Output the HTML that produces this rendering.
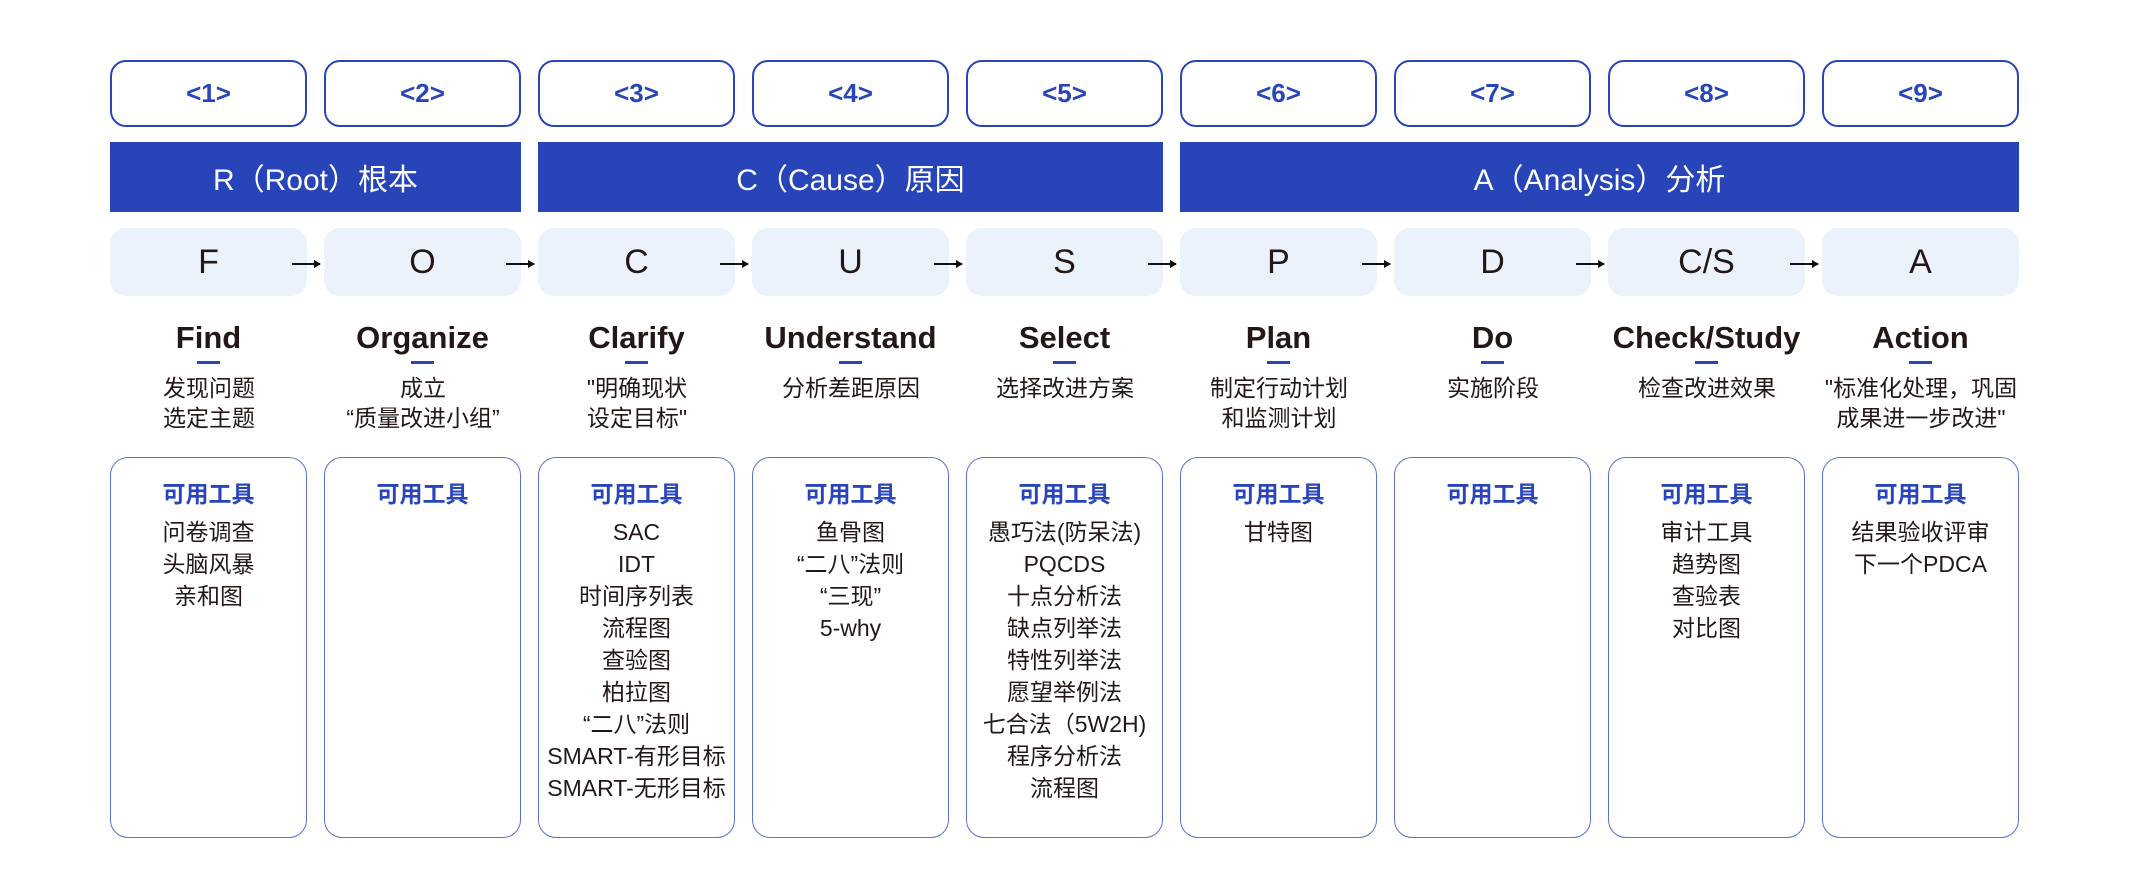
<!DOCTYPE html>
<html><head><meta charset="utf-8"><style>
*{margin:0;padding:0;box-sizing:border-box}
body{width:2137px;height:888px;background:#fff;position:relative;overflow:hidden;font-family:"Liberation Sans","Noto Sans CJK SC",sans-serif;color:#231815}
.a{position:absolute}
.top{top:60px;height:67px;width:197px;border:2px solid #2846BA;border-radius:16px;color:#2846BA;font-size:26px;font-weight:bold;display:flex;align-items:center;justify-content:center}
.band{top:142px;height:70px;background:#2745B8;color:#fff;font-size:30px;display:flex;align-items:center;justify-content:center}
.lt{top:228px;height:68px;width:197px;background:#EBF2FB;border-radius:16px;font-size:34px;display:flex;align-items:center;justify-content:center}
.ar{top:263px;height:1.5px;width:28px;background:#111}
.ar:after{content:"";position:absolute;right:-1px;top:-3.5px;border-left:7px solid #111;border-top:4px solid transparent;border-bottom:4px solid transparent}
.tt{top:318px;width:197px;text-align:center;font-size:31px;font-weight:bold;line-height:40px}
.ul{top:361px;width:23px;height:3px;background:#2846BA}
.ds{top:373px;width:240px;text-align:center;font-size:23px;line-height:30px}
.bx{top:457px;height:381px;width:197px;border:1.5px solid #5a72cc;border-radius:18px;text-align:center;padding-top:20px}
.bx h4{color:#2846BA;font-size:23px;font-weight:bold;line-height:32px;margin-bottom:6px}
.bx p{font-size:23px;line-height:32px;white-space:nowrap}
</style></head><body>
<div class="a top" style="left:110px">&lt;1&gt;</div>
<div class="a top" style="left:324px">&lt;2&gt;</div>
<div class="a top" style="left:538px">&lt;3&gt;</div>
<div class="a top" style="left:752px">&lt;4&gt;</div>
<div class="a top" style="left:966px">&lt;5&gt;</div>
<div class="a top" style="left:1180px">&lt;6&gt;</div>
<div class="a top" style="left:1394px">&lt;7&gt;</div>
<div class="a top" style="left:1608px">&lt;8&gt;</div>
<div class="a top" style="left:1822px">&lt;9&gt;</div>

<div class="a band" style="left:110px;width:411px">R（Root）根本</div>
<div class="a band" style="left:538px;width:625px">C（Cause）原因</div>
<div class="a band" style="left:1180px;width:839px">A（Analysis）分析</div>

<div class="a lt" style="left:110px">F</div>
<div class="a lt" style="left:324px">O</div>
<div class="a lt" style="left:538px">C</div>
<div class="a lt" style="left:752px">U</div>
<div class="a lt" style="left:966px">S</div>
<div class="a lt" style="left:1180px">P</div>
<div class="a lt" style="left:1394px">D</div>
<div class="a lt" style="left:1608px">C/S</div>
<div class="a lt" style="left:1822px">A</div>

<div class="a ar" style="left:292px"></div>
<div class="a ar" style="left:506px"></div>
<div class="a ar" style="left:720px"></div>
<div class="a ar" style="left:934px"></div>
<div class="a ar" style="left:1148px"></div>
<div class="a ar" style="left:1362px"></div>
<div class="a ar" style="left:1576px"></div>
<div class="a ar" style="left:1790px"></div>

<div class="a tt" style="left:110px">Find</div>
<div class="a tt" style="left:324px">Organize</div>
<div class="a tt" style="left:538px">Clarify</div>
<div class="a tt" style="left:752px">Understand</div>
<div class="a tt" style="left:966px">Select</div>
<div class="a tt" style="left:1180px">Plan</div>
<div class="a tt" style="left:1394px">Do</div>
<div class="a tt" style="left:1608px">Check/Study</div>
<div class="a tt" style="left:1822px">Action</div>

<div class="a ul" style="left:197px"></div>
<div class="a ul" style="left:411px"></div>
<div class="a ul" style="left:625px"></div>
<div class="a ul" style="left:839px"></div>
<div class="a ul" style="left:1053px"></div>
<div class="a ul" style="left:1267px"></div>
<div class="a ul" style="left:1481px"></div>
<div class="a ul" style="left:1695px"></div>
<div class="a ul" style="left:1909px"></div>

<div class="a ds" style="left:89px">发现问题<br>选定主题</div>
<div class="a ds" style="left:303px">成立<br>“质量改进小组”</div>
<div class="a ds" style="left:517px">"明确现状<br>设定目标"</div>
<div class="a ds" style="left:731px">分析差距原因</div>
<div class="a ds" style="left:945px">选择改进方案</div>
<div class="a ds" style="left:1159px">制定行动计划<br>和监测计划</div>
<div class="a ds" style="left:1373px">实施阶段</div>
<div class="a ds" style="left:1587px">检查改进效果</div>
<div class="a ds" style="left:1781px;width:280px">"标准化处理，巩固<br>成果进一步改进"</div>

<div class="a bx" style="left:110px"><h4>可用工具</h4><p>问卷调查</p><p>头脑风暴</p><p>亲和图</p></div>
<div class="a bx" style="left:324px"><h4>可用工具</h4></div>
<div class="a bx" style="left:538px"><h4>可用工具</h4><p>SAC</p><p>IDT</p><p>时间序列表</p><p>流程图</p><p>查验图</p><p>柏拉图</p><p>“二八”法则</p><p>SMART-有形目标</p><p>SMART-无形目标</p></div>
<div class="a bx" style="left:752px"><h4>可用工具</h4><p>鱼骨图</p><p>“二八”法则</p><p>“三现”</p><p>5-why</p></div>
<div class="a bx" style="left:966px"><h4>可用工具</h4><p>愚巧法(防呆法)</p><p>PQCDS</p><p>十点分析法</p><p>缺点列举法</p><p>特性列举法</p><p>愿望举例法</p><p>七合法（5W2H)</p><p>程序分析法</p><p>流程图</p></div>
<div class="a bx" style="left:1180px"><h4>可用工具</h4><p>甘特图</p></div>
<div class="a bx" style="left:1394px"><h4>可用工具</h4></div>
<div class="a bx" style="left:1608px"><h4>可用工具</h4><p>审计工具</p><p>趋势图</p><p>查验表</p><p>对比图</p></div>
<div class="a bx" style="left:1822px"><h4>可用工具</h4><p>结果验收评审</p><p>下一个PDCA</p></div>
</body></html>
